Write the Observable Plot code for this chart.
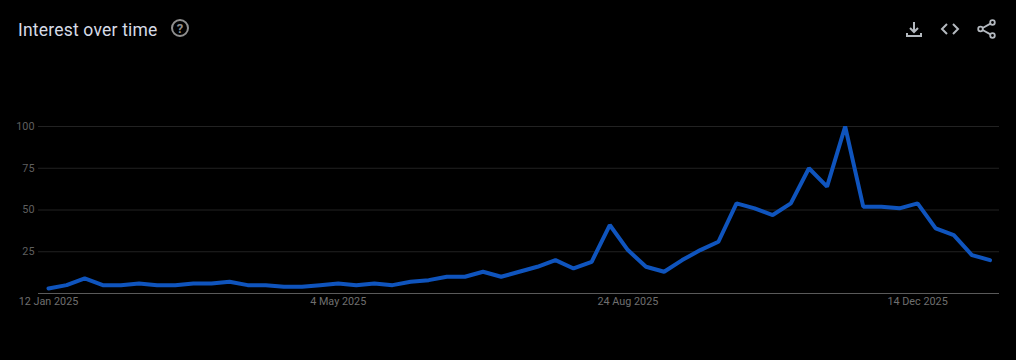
<!DOCTYPE html>
<html>
<head>
<meta charset="utf-8">
<script src="https://cdn.jsdelivr.net/npm/d3@7"></script>
<script src="https://cdn.jsdelivr.net/npm/@observablehq/plot@0.6"></script>
<style>
html,body{margin:0;padding:0;background:#000;width:1016px;height:360px;overflow:hidden}
#wrap{position:relative;width:1016px;height:360px}
#title{position:absolute;left:18px;top:19px;font:400 17.5px/22px Roboto,sans-serif;color:#d6dbe6;letter-spacing:.2px;white-space:nowrap}
.icon{position:absolute;display:block}
#chart{position:absolute;left:0;top:100px}
#chart svg{display:block;background:#000}
</style>
</head>
<body>
<div id="wrap">
  <div id="title">Interest over time</div>
  <svg class="icon" style="left:170px;top:18px" width="20" height="20" viewBox="0 0 20 20" fill="none">
    <circle cx="10" cy="10" r="8" stroke="#8f8f8f" stroke-width="2"/>
    <text x="10" y="14.5" text-anchor="middle" font-family="Roboto,sans-serif" font-size="13" font-weight="700" fill="#8f8f8f">?</text>
  </svg>
  <svg class="icon" style="left:905px;top:20px" width="18" height="18" viewBox="0 0 18 18" fill="none" stroke="#b4b9bf" stroke-width="2">
    <path d="M9 2v10M5 8l4 4 4-4M2 13v3h14v-3"/>
  </svg>
  <svg class="icon" style="left:940px;top:20px" width="20" height="18" viewBox="0 0 20 18" fill="none" stroke="#b4b9bf" stroke-width="2">
    <path d="M7 4L2 9l5 5M13 4l5 5-5 5"/>
  </svg>
  <svg class="icon" style="left:977px;top:19px" width="20" height="20" viewBox="0 0 20 20" fill="none" stroke="#b4b9bf" stroke-width="1.8">
    <circle cx="15.5" cy="3.5" r="2.3"/><circle cx="3.5" cy="10" r="2.3"/><circle cx="15.5" cy="16.5" r="2.3"/>
    <path d="M5.6 9L13.5 4.6M5.6 11L13.5 15.4"/>
  </svg>
  <div id="chart"></div>
</div>
<script>
const startWeek = "2025-01-12";
const interest = [3,5,9,5,5,6,5,5,6,6,7,5,5,4,4,5,6,5,6,5,7,8,10,10,13,10,13,16,20,15,19,41,26,16,13,20,26,31,54,51,47,54,75,64,100,52,52,51,54,39,35,23,20];
const xTicks = ["2025-01-12","2025-05-04","2025-08-24","2025-12-14"];
const xTickLabels = ["12 Jan 2025","4 May 2025","24 Aug 2025","14 Dec 2025"];
const yTicks = [25,50,75,100];

const start = new Date(startWeek + "T00:00:00Z");
const weeks = interest.map((_, i) => d3.utcWeek.offset(start, i));
const rows = interest.map((v, i) => ({week: weeks[i], value: v}));
const tickDates = xTicks.map(d => new Date(d + "T00:00:00Z"));

const plot = Plot.plot({
  width: 1016,
  height: 260,
  marginLeft: 38,
  marginRight: 17,
  marginTop: 26,
  marginBottom: 67,
  style: {background: "#000", fontFamily: "Roboto, sans-serif", fontSize: "10.8px"},
  x: {type: "utc", domain: [weeks[0], weeks[weeks.length - 1]], insetLeft: 10, insetRight: 9.5},
  y: {domain: [0, 100]},
  marks: [
    Plot.ruleY(yTicks, {stroke: "#222222", strokeWidth: 1}),
    Plot.ruleY([0], {stroke: "#5a5a5a", strokeWidth: 1}),
    Plot.axisY({ticks: yTicks, tickSize: 0, tickPadding: 4, color: "#5f5f5f", label: null, fontSize: 10.8}),
    Plot.axisX({ticks: tickDates, tickSize: 0, tickPadding: 4, color: "#6f6f6f", label: null, fontSize: 10.8,
      tickFormat: d => xTickLabels[tickDates.findIndex(t => +t === +d)]}),
    Plot.line(rows, {x: "week", y: "value", stroke: "#0f54bd", strokeWidth: 4, curve: "linear", strokeLinejoin: "miter"})
  ]
});
document.getElementById("chart").appendChild(plot);
</script>
</body>
</html>
